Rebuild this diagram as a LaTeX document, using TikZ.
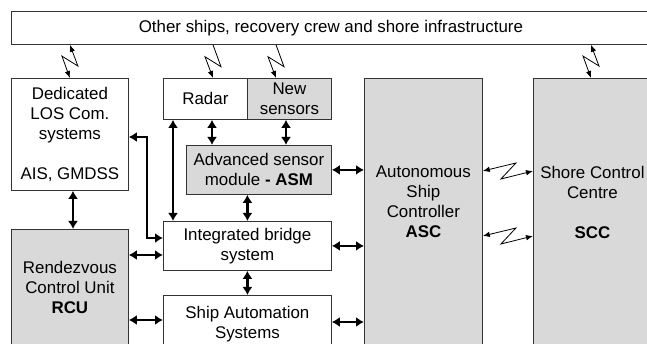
\documentclass[tikz,border=0pt]{standalone}
\usepackage{fontspec}
\setmainfont{Liberation Sans}
\usetikzlibrary{arrows.meta,calc}
\definecolor{boxgray}{HTML}{D9D9D9}
\tikzstyle{block}=[draw=black!80, fill=white, line width=0.8pt, anchor=north west, inner sep=0pt, align=center, font=\fontsize{16.9}{20}\selectfont]
\tikzstyle{shaded}=[block, fill=boxgray]
\tikzstyle{boxtext}=[anchor=north, align=center, inner sep=0pt, font=\fontsize{16.9}{20}\selectfont]
\tikzstyle{link}=[{Latex[length=8pt,width=10pt]}-{Latex[length=8pt,width=10pt]}, line width=2.2pt]
\tikzstyle{bolt}=[line width=0.8pt, >={Latex[length=7pt,width=5.5pt]}, to path={-- ($(\tikztostart)!0.66!(\tikztotarget)!8pt!90:(\tikztotarget)$) -- ($(\tikztostart)!0.36!(\tikztotarget)!8pt!-90:(\tikztotarget)$) -- (\tikztotarget)}]

\begin{document}
\begin{tikzpicture}[x=1pt, y=-1pt]
\clip (0, 0) rectangle (647, 344);
\node[block, minimum width=639, minimum height=33] at (11, 11) (top) {Other ships, recovery crew and shore infrastructure};
\node[block, minimum width=117, minimum height=112] at (11, 78) (los) {Dedicated\\LOS Com.\\systems\\[20pt]AIS, GMDSS};
\node[shaded, minimum width=117, minimum height=171, label={[boxtext, yshift=-32pt]north:{Rendezvous\\Control Unit\\\textbf{RCU}}}] at (11, 229) (rcu) {};
\node[block, minimum width=84, minimum height=41] at (163, 78) (radar) {Radar};
\node[shaded, minimum width=84, minimum height=41] at (247, 78) (sensors) {New\\sensors};
\node[shaded, minimum width=145, minimum height=49] at (186, 145) (asm) {Advanced sensor\\module \textbf{- ASM}};
\node[block, minimum width=168, minimum height=49] at (163, 221) (ibs) {Integrated bridge\\system};
\node[block, minimum width=168, minimum height=57] at (163, 295) (sas) {Ship Automation\\Systems};
\node[shaded, minimum width=118, minimum height=322, label={[boxtext, yshift=-88pt]north:{Autonomous\\Ship\\Controller\\\textbf{ASC}}}] at (364, 78) (asc) {};
\node[shaded, minimum width=118, minimum height=322, label={[boxtext, yshift=-88pt]north:{Shore Control\\Centre\\[20pt]\textbf{SCC}}}] at (533, 78) (scc) {};
\draw[bolt, <->] (los.north) to (los.north |- top.south);
\draw[bolt, ->] (213, 0 |- top.south) to (213, 0 |- radar.north);
\draw[bolt, ->] (276, 0 |- top.south) to (276, 0 |- sensors.north);
\draw[bolt, <->] (591, 0 |- scc.north) to (591, 0 |- top.south);
\draw[bolt, <->] (asc.east |- 0, 171) to (scc.west |- 0, 171);
\draw[bolt, <->] (asc.east |- 0, 236) to (scc.west |- 0, 236);
\draw[link] (212, 0 |- radar.south) -- (212, 0 |- asm.north);
\draw[link] (286, 0 |- sensors.south) -- (286, 0 |- asm.north);
\draw[link] (173, 0 |- radar.south) -- (173, 0 |- ibs.north);
\draw[link] (ibs.north) -- (ibs.north |- asm.south);
\draw[link] (ibs.south) -- (sas.north);
\draw[link] (73, 0 |- los.south) -- (73, 0 |- rcu.north);
\draw[link] (los.east |- 0, 137) -- ++(18, 0) |- (ibs.west |- 0, 238);
\draw[link] (rcu.east |- 0, 255) -- (ibs.west |- 0, 255);
\draw[link] (rcu.east |- 0, 320) -- (sas.west |- 0, 320);
\draw[link] (asm.east) -- (asm.east -| asc.west);
\draw[link] (ibs.east) -- (ibs.east -| asc.west);
\draw[link] (sas.east |- 0, 322) -- (asc.west |- 0, 322);
\end{tikzpicture}
\end{document}
